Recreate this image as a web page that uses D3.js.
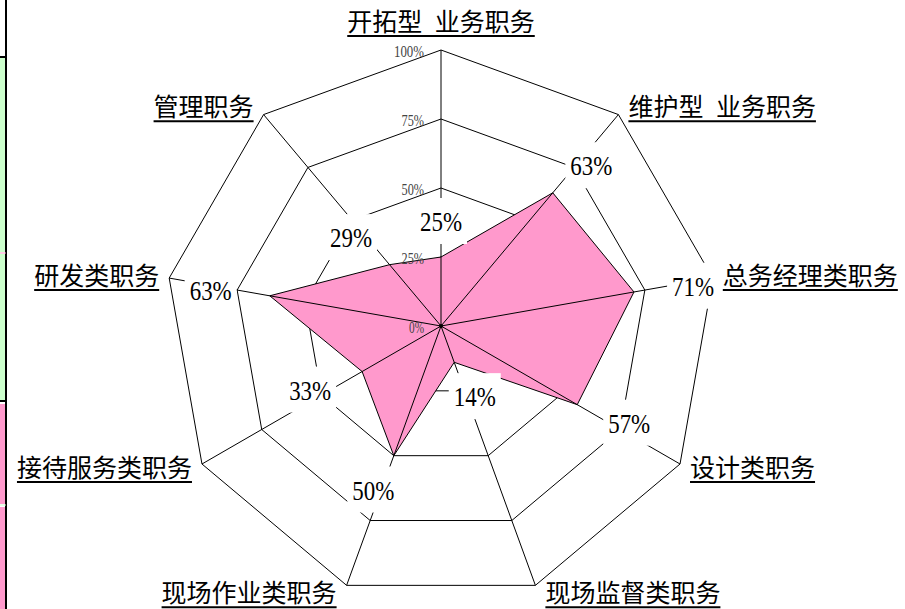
<!DOCTYPE html>
<meta charset="utf-8">
<style>
body { margin: 0; background: white; }
svg { display: block; }
</style>
<body>
<script src="https://d3js.org/d3.v7.min.js"></script>
<script>

// Chart size
const width = 905
const height = 609

// Job categories, clockwise from the top
const categories = ['开拓型 业务职务', '维护型 业务职务', '总务经理类职务', '设计类职务',
  '现场监督类职务', '现场作业类职务', '接待服务类职务', '研发类职务', '管理职务']
// Share for each category
const values = [0.25, 0.63, 0.71, 0.57, 0.14, 0.50, 0.33, 0.63, 0.29]
// Scale rings and their labels
const ticks = [0, 0.25, 0.5, 0.75, 1]
const tickLabels = ['0%', '25%', '50%', '75%', '100%']

const cx = 441
const cy = 326
const step = 2 * Math.PI / categories.length
const pct = d3.format('.0%')

const r = d3.scaleLinear().domain([0, 1]).range([0, 276])

const svg = d3.select('body')
  .append('svg')
  .attr('width', width)
  .attr('height', height)

// Spreadsheet cells peeking in on the left edge
const strip = svg.append('g')
strip.append('rect').attr('x', 0).attr('y', 57).attr('width', 6).attr('height', 195).attr('fill', '#ccffcc')
strip.append('rect').attr('x', 0).attr('y', 254).attr('width', 6).attr('height', 146).attr('fill', '#ccffcc')
strip.append('rect').attr('x', 0).attr('y', 404).attr('width', 6).attr('height', 100).attr('fill', '#ff99cc')
strip.append('rect').attr('x', 0).attr('y', 507).attr('width', 6).attr('height', 102).attr('fill', '#ff99cc')
strip.append('line').attr('x1', 6).attr('x2', 6).attr('y1', 0).attr('y2', height).attr('stroke', 'black').attr('stroke-width', 2)
strip.append('line').attr('x1', 0).attr('x2', 6).attr('y1', 57).attr('y2', 57).attr('stroke', 'black').attr('stroke-width', 2)
strip.append('line').attr('x1', 0).attr('x2', 6).attr('y1', 253).attr('y2', 253).attr('stroke', '#ff99cc').attr('stroke-width', 1)
strip.append('line').attr('x1', 0).attr('x2', 6).attr('y1', 401).attr('y2', 401).attr('stroke', 'black').attr('stroke-width', 2)
strip.append('line').attr('x1', 0).attr('x2', 6).attr('y1', 505).attr('y2', 505).attr('stroke', '#ccffcc').attr('stroke-width', 1)

const g = svg.append('g').attr('transform', `translate(${cx},${cy})`)

// Polar helpers
const px = (i, v) => r(v) * Math.sin(i * step)
const py = (i, v) => -r(v) * Math.cos(i * step)

const ring = d3.lineRadial()
  .angle((d, i) => i * step)
  .radius(d => r(d))
  .curve(d3.curveLinearClosed)

// Rings
g.selectAll('.ring')
  .data(ticks.filter(t => t > 0))
  .enter()
  .append('path')
  .attr('class', 'ring')
  .attr('d', t => ring(categories.map(() => t)))
  .attr('fill', 'none')
  .attr('stroke', 'black')
  .attr('stroke-width', 1)

// The data area
g.append('path')
  .attr('d', ring(values))
  .attr('fill', '#ff99cc')
  .attr('stroke', 'black')
  .attr('stroke-width', 1)

// Spokes
g.selectAll('.spoke')
  .data(categories)
  .enter()
  .append('line')
  .attr('class', 'spoke')
  .attr('x1', 0).attr('y1', 0)
  .attr('x2', (d, i) => px(i, 1))
  .attr('y2', (d, i) => py(i, 1))
  .attr('stroke', 'black')
  .attr('stroke-width', 1)

g.append('circle').attr('r', 2).attr('fill', 'black')

// Scale labels up the top spoke
g.selectAll('.tick')
  .data(ticks)
  .enter()
  .append('text')
  .attr('class', 'tick')
  .attr('x', -17)
  .attr('y', t => -r(t) + 6.5)
  .attr('text-anchor', 'end')
  .attr('font-family', 'Liberation Serif')
  .attr('font-size', 16)
  .attr('fill', '#444')
  .attr('textLength', (t, i) => tickLabels[i].length * 7.5)
  .attr('lengthAdjust', 'spacingAndGlyphs')
  .text((t, i) => tickLabels[i])

// Category labels, underlined
const cat = svg.append('g')
categories.forEach((name, i) => {
  const a = i * step
  const s = Math.sin(a)
  const c = Math.cos(a)
  const vx = cx + px(i, 1)
  const vy = cy + py(i, 1)
  const top = Math.abs(s) < 0.1
  const t = cat.append('text')
    .attr('x', top ? vx : vx + (s > 0 ? 10 : -10))
    .attr('y', top ? vy - 19 : vy + 8.5 - 9 * c)
    .attr('text-anchor', top ? 'middle' : (s > 0 ? 'start' : 'end'))
    .attr('font-family', '"Noto Sans CJK SC"')
    .attr('font-size', 25)
    .attr('fill', 'black')
    .style('white-space', 'pre')
    .text(name.replace(' ', '\u2002'))
  const b = t.node().getBBox()
  const base = +t.attr('y')
  cat.append('line')
    .attr('x1', b.x).attr('x2', b.x + b.width)
    .attr('y1', base + 5).attr('y2', base + 5)
    .attr('stroke', 'black')
    .attr('stroke-width', 2)
})

// Value labels on white boxes
const lab = g.selectAll('.val')
  .data(values)
  .enter()
  .append('g')
  .attr('class', 'val')
  .attr('transform', (v, i) => `translate(${px(i, v) + 60 * Math.sin(i * step)},${py(i, v) - 36 * Math.cos(i * step)})`)

lab.append('rect')
  .attr('x', -26).attr('y', -23)
  .attr('width', 52).attr('height', 46)
  .attr('fill', 'white')

lab.append('text')
  .attr('y', 10)
  .attr('text-anchor', 'middle')
  .attr('font-family', 'Liberation Serif')
  .attr('font-size', 28)
  .attr('fill', 'black')
  .attr('textLength', v => pct(v).length * 14)
  .attr('lengthAdjust', 'spacingAndGlyphs')
  .text(v => pct(v))

</script>
</body>
</html>
